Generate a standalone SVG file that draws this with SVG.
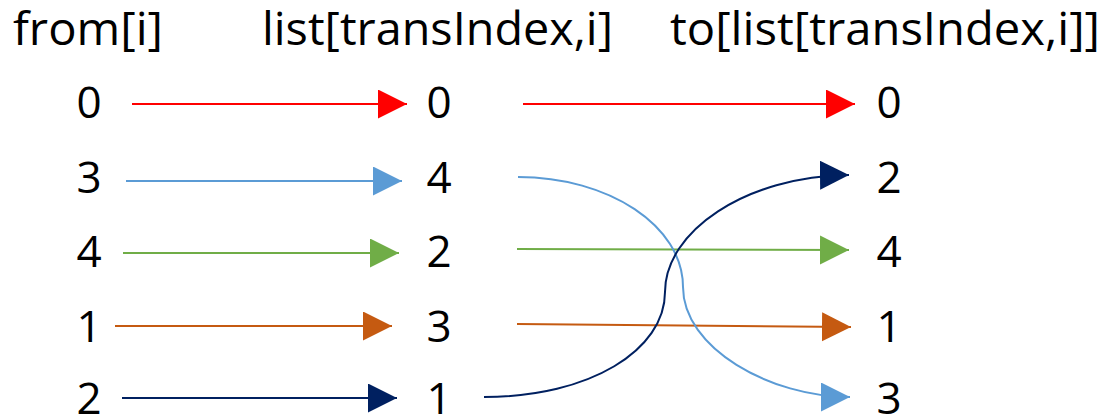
<svg xmlns="http://www.w3.org/2000/svg" width="1113" height="418" viewBox="0 0 1113 418">
<style>
.h{font-family:"Open Sans","Liberation Sans",sans-serif;font-size:46px;fill:#000}
.d{font-family:"Open Sans","Liberation Sans",sans-serif;font-size:44px;fill:#000;text-anchor:middle}
.c{fill:none;stroke-width:2}
</style>
<defs>
<marker id="mr" markerUnits="userSpaceOnUse" markerWidth="30" markerHeight="30" refX="29" refY="14.5" orient="auto"><path d="M0,0 L29,14.5 L0,29 z" fill="#FF0000"/></marker>
<marker id="mb" markerUnits="userSpaceOnUse" markerWidth="30" markerHeight="30" refX="29" refY="14.5" orient="auto"><path d="M0,0 L29,14.5 L0,29 z" fill="#5B9BD5"/></marker>
<marker id="mg" markerUnits="userSpaceOnUse" markerWidth="30" markerHeight="30" refX="29" refY="14.5" orient="auto"><path d="M0,0 L29,14.5 L0,29 z" fill="#70AD47"/></marker>
<marker id="mo" markerUnits="userSpaceOnUse" markerWidth="30" markerHeight="30" refX="29" refY="14.5" orient="auto"><path d="M0,0 L29,14.5 L0,29 z" fill="#C55A11"/></marker>
<marker id="mn" markerUnits="userSpaceOnUse" markerWidth="30" markerHeight="30" refX="29" refY="14.5" orient="auto"><path d="M0,0 L29,14.5 L0,29 z" fill="#002060"/></marker>
</defs>
<rect width="1113" height="418" fill="#fff"/>
<g id="headers">
<text class="h" x="13" y="45" textLength="150" lengthAdjust="spacingAndGlyphs">from[i]</text>
<text class="h" x="262" y="45" textLength="351" lengthAdjust="spacingAndGlyphs">list[transIndex,i]</text>
<text class="h" x="670" y="45" textLength="430" lengthAdjust="spacingAndGlyphs">to[list[transIndex,i]]</text>
</g>
<g id="col-from">
<text class="d" x="89" y="118">0</text>
<text class="d" x="89" y="193">3</text>
<text class="d" x="89" y="267">4</text>
<text class="d" x="89" y="342">1</text>
<text class="d" x="89" y="414">2</text>
</g>
<g id="col-list">
<text class="d" x="439" y="118">0</text>
<text class="d" x="439" y="193">4</text>
<text class="d" x="439" y="267">2</text>
<text class="d" x="439" y="342">3</text>
<text class="d" x="439" y="414">1</text>
</g>
<g id="col-to">
<text class="d" x="889" y="118">0</text>
<text class="d" x="889" y="193">2</text>
<text class="d" x="889" y="267">4</text>
<text class="d" x="889" y="342">1</text>
<text class="d" x="889" y="414">3</text>
</g>
<g id="connectors">
<path class="c" stroke="#FF0000" d="M132,104 L407,104" marker-end="url(#mr)"/>
<path class="c" stroke="#5B9BD5" d="M126,181 L402,181" marker-end="url(#mb)"/>
<path class="c" stroke="#70AD47" d="M123,253 L399,253" marker-end="url(#mg)"/>
<path class="c" stroke="#C55A11" d="M115,326 L392,326" marker-end="url(#mo)"/>
<path class="c" stroke="#002060" d="M122,398 L397,398" marker-end="url(#mn)"/>
<path class="c" stroke="#FF0000" d="M523,104 L855,104" marker-end="url(#mr)"/>
<path class="c" stroke="#70AD47" d="M517,249 L849,250" marker-end="url(#mg)"/>
<path class="c" stroke="#C55A11" d="M517,324 L851,327" marker-end="url(#mo)"/>
<path class="c" stroke="#5B9BD5" d="M518,177 C609,177 683,226 683,287 C683,348 770,397 850,397" marker-end="url(#mb)"/>
<path class="c" stroke="#002060" stroke-width="2.3" d="M484,397 C590,397 665,350 665,292 C665,232 745,176 849,175" marker-end="url(#mn)"/>
</g>
</svg>
